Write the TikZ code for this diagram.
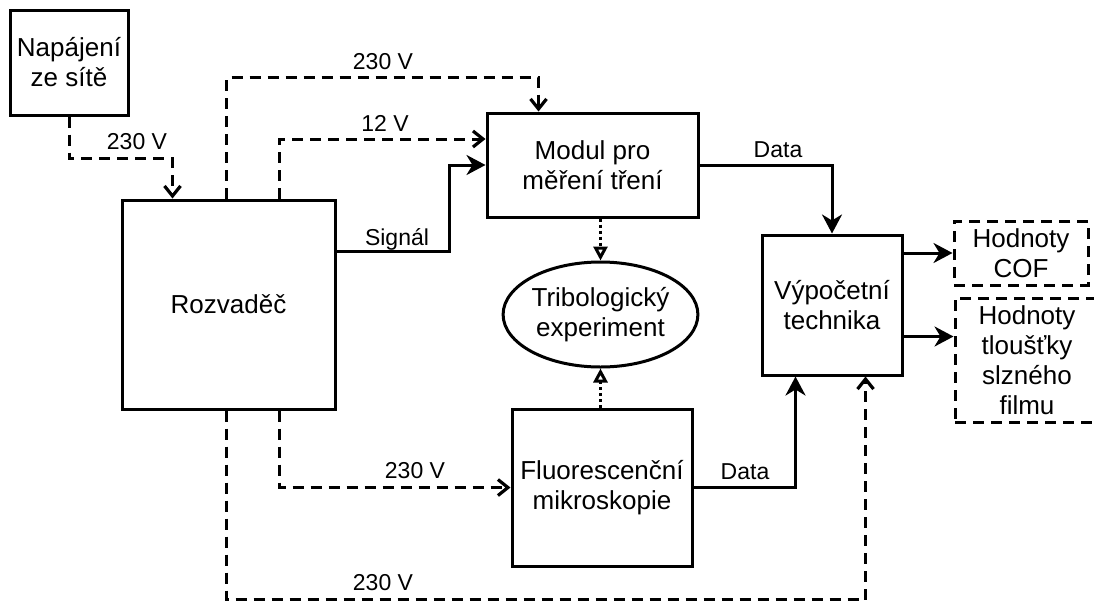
\documentclass[tikz,border=0pt]{standalone}
\usepackage{fontspec}
\setmainfont{Liberation Sans}
\usetikzlibrary{arrows.meta,shapes.geometric,calc}
\begin{document}
\begin{tikzpicture}[x=1pt,y=-1pt,
  blk/.style={draw, line width=3pt, rectangle, align=center, inner sep=0pt,
    font=\fontsize{26}{30}\selectfont},
  dblk/.style={blk, dash pattern=on 11pt off 7pt},
  lbl/.style={inner sep=0pt, font=\fontsize{23}{28}\selectfont},
  sol/.style={line width=3pt, -{Stealth[length=19pt,width=20pt,inset=6pt]}},
  pw/.style={line width=3pt, dash pattern=on 11pt off 7pt, -{Straight Barb[length=10pt,width=16pt,line width=3.2pt]}},
  dotl/.style={line width=3pt, dash pattern=on 3pt off 3pt, -{Triangle[open,length=14pt,width=14pt,line width=3pt]}}
]
\useasboundingbox (0,0) rectangle (1094,600);
\fill[white] (0,0) rectangle (1094,600);

\node[blk, minimum width=118pt, minimum height=105pt] (nap) at (69,62.5) {Napájení\\ze sítě};
\node[blk, minimum width=213pt, minimum height=209pt] (roz) at (228.5,304.5) {Rozvaděč};
\node[blk, minimum width=211pt, minimum height=104pt] (mod) at (592.5,165) {Modul pro\\měření tření};
\node[blk, ellipse, minimum width=183pt, minimum height=105pt] (ell) at (600.5,314.5) {Tribologický\\experiment};
\node[blk, minimum width=180pt, minimum height=157pt] (flu) at (602,487.5) {Fluorescenční\\mikroskopie};
\node[blk, minimum width=140pt, minimum height=140pt] (vyp) at (832,305) {Výpočetní\\technika};
\node[dblk, minimum width=134pt, minimum height=64pt] (cof) at (1021,253) {Hodnoty\\COF};
\node[dblk, minimum width=144pt, minimum height=124pt] (tlo) at (1027,360) {Hodnoty\\tloušťky\\slzného\\filmu};

% connectors
\draw[pw] (nap.south) -- ++(0,42) -| ($(roz.north west)+(52,0)$);
\draw[pw] ($(roz.north west)+(106,0)$) -- ++(0,-121) -| ($(mod.north west)+(53,0)$);
\draw[pw] ($(roz.north west)+(159,0)$) |- ($(mod.west)+(0,-26)$);
\draw[sol] ($(roz.north east)+(0,53)$) -- ++(113,0) |- (mod.west);
\draw[sol] (mod.east) -| (vyp.north);
\draw[dotl] (ell.north |- mod.south) -- (ell.north);
\draw[dotl] (ell.south |- flu.north) -- (ell.south);
\draw[pw] ($(roz.south west)+(159,0)$) |- (flu.west);
\draw[sol] (flu.east) -| ($(vyp.south west)+(35,0)$);
\draw[pw] ($(roz.south west)+(106,0)$) -- ++(0,189) -| ($(vyp.south west)+(105,0)$);
\draw[sol] (vyp.east |- cof.west) -- (cof.west);
\draw[sol] ($(vyp.north east)+(0,103)$) -- ($(tlo.north west)+(0,40)$);

% labels
\node[lbl] (l1) at (137,142) {230 V};
\node[lbl] (l2) at (383,62) {230 V};
\node[lbl] (l3) at (385,123) {12 V};
\node[lbl] (l4) at (397,239) {Signál};
\node[lbl] (l5) at (778,150) {Data};
\node[lbl] (l6) at (415,471) {230 V};
\node[lbl] (l7) at (745,472) {Data};
\node[lbl] (l8) at (383,583) {230 V};
\end{tikzpicture}
\end{document}
